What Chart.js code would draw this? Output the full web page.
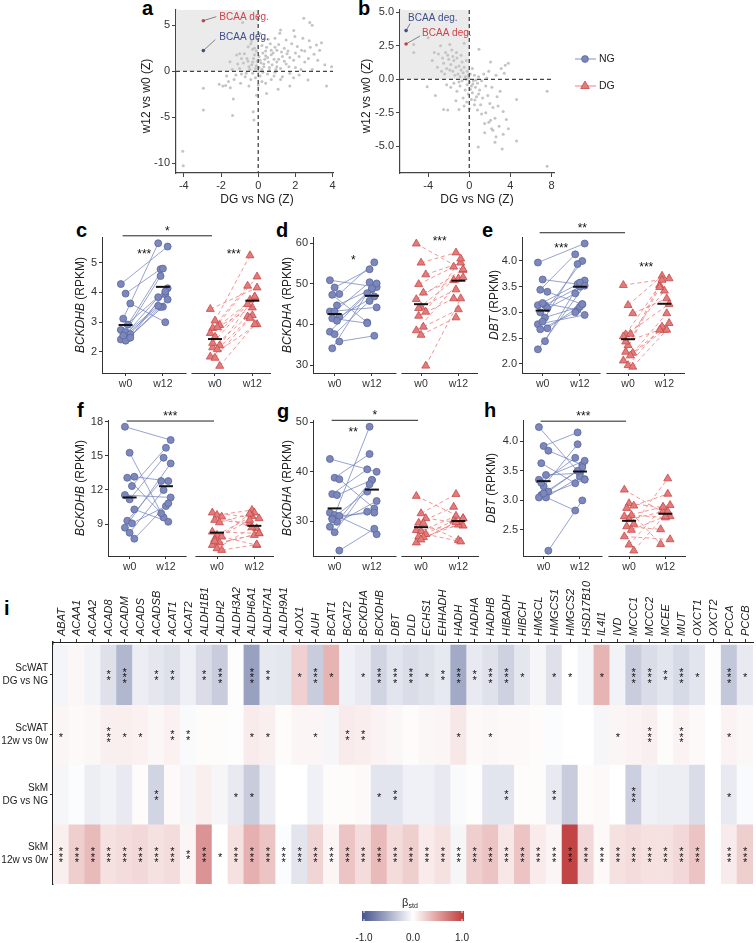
<!DOCTYPE html>
<html>
<head>
<meta charset="utf-8">
<script src="https://cdn.jsdelivr.net/npm/chart.js@4.4.1/dist/chart.umd.min.js"></script>
<style>
  body { margin: 0; background: #fff; }
  #fig { position: relative; width: 756px; height: 943px; overflow: hidden; background: #fff; }
  #fig canvas { position: absolute; }
  .tag { position: absolute; font: bold 20px "Liberation Sans", Arial, sans-serif; line-height: 20px; color: #000; }
</style>
</head>
<body>
<div id="fig">
  <div class="tag" style="left:142px;top:-2px">a</div>
  <div class="tag" style="left:358px;top:-2px">b</div>
  <div class="tag" style="left:76px;top:220px">c</div>
  <div class="tag" style="left:276px;top:220px">d</div>
  <div class="tag" style="left:482px;top:220px">e</div>
  <div class="tag" style="left:77px;top:400px">f</div>
  <div class="tag" style="left:277px;top:401px">g</div>
  <div class="tag" style="left:484px;top:400px">h</div>
  <div class="tag" style="left:4px;top:598px">i</div>
</div>
<script>
// ---------------- data ----------------
// panel a: [DG vs NG (Z), w12 vs w0 (Z)] per gene, ScWAT
var zA = [
  [-4.06,-8.7],[-4.03,-10.25],[-2.95,-1.85],[-2.95,-4.2],[-1.38,-4.8],[-1.34,-3.0],[-1.6,-1.1],[-1.9,-1.6],[-1.75,-1.55],
  [-0.27,-4.4],[-0.23,-5.3],[-0.09,-2.6],[0.45,-2.4],[1.07,-1.96],[1.7,-1.6],[2.68,-0.94],[3.67,-1.6],[2.45,5.76],
  [2.77,5.3],[2.9,5.0],[1.91,4.42],[1.16,4.13],[0.54,3.48],[1.97,3.77],[2.74,3.33],[3.13,2.86],[3.3,2.3],[2.33,2.3],
  [3.0,1.85],[3.58,0.7],[3.94,0.5],[-0.84,5.3],[-1.52,1.05],[-1.16,1.78],[-0.9,1.4],[-0.54,2.68],[-0.2,2.5],
  [0.1,1.2],[0.3,0.8],[-0.3,1.0],[0.5,1.5],[0.8,2.0],[-0.5,0.5],[0.2,0.2],[-0.1,0.6],[0.6,0.4],[1.0,1.0],[1.3,1.6],
  [1.6,2.2],[0.9,2.6],[0.4,2.2],[-0.2,1.8],[-0.6,1.4],[-0.8,0.9],[-1.0,0.3],[-1.2,-0.4],[-0.7,-0.6],[-0.3,-0.2],
  [0.1,-0.5],[0.5,-0.3],[0.9,-0.1],[1.2,0.3],[1.5,0.8],[1.9,1.2],[2.2,1.6],[2.5,1.0],[2.0,0.4],[1.7,-0.2],[1.3,-0.6],
  [0.7,-0.9],[0.2,-1.1],[-0.4,-0.9],[-0.9,-0.3],[0.0,0.0],[0.15,0.9],[0.35,1.3],[0.55,1.0],[0.75,0.7],[-0.15,0.3],
  [-0.35,0.7],[-0.55,1.1],[0.05,1.6],[0.25,2.0],[0.45,2.6],[0.65,3.0],[1.1,2.9],[1.4,2.5],[1.8,3.0],[2.1,2.7],
  [2.4,3.6],[1.5,3.4],[0.9,3.6],[-0.4,3.0],[-0.1,2.2],[0.7,1.8],[1.1,1.3],[1.4,1.1],[1.7,1.5],[2.0,2.0],[2.7,1.4],
  [2.9,0.2],[3.2,1.2],[2.3,0.2],[1.0,0.5],[0.3,0.5],[-0.05,1.1],[-0.25,1.4],[-0.45,0.2],[-0.65,-0.2],[-1.1,0.8],
  [-1.4,0.2],[-1.7,-0.5],[-1.3,-0.9],[-0.95,-1.3],[-0.5,-1.6],[0.0,-1.5],[0.4,-1.3],[0.85,-0.5],[1.2,-0.9],[1.9,-0.7],
  [2.2,-0.4],[0.6,0.1],[0.05,0.4],[0.4,1.7],[0.85,1.3],[1.25,2.1],[1.55,1.9],[-0.3,2.4],[0.2,2.8],[0.7,2.3],[1.0,2.3],
  [-0.75,1.9],[-0.15,-0.7],[0.25,-0.1],[0.95,0.2],[1.65,0.5],[2.5,2.2],[2.8,2.6],[3.4,3.1],[1.2,4.5],[0.3,3.5],
  [-1.0,1.9],[-0.35,3.3],[0.1,4.1],[-2.1,-1.4],[-1.5,-1.8]
];
// panel b: same, SkM
var zB = [
  [-5.4,2.6],[-5.4,2.0],[-4.0,3.1],[-4.1,-0.55],[-3.3,-1.2],[-2.5,-2.25],[-2.1,-2.3],[-1.0,-2.25],[0.87,-5.05],
  [2.5,-4.7],[2.6,-4.3],[3.3,-4.1],[4.6,-4.6],[2.17,-3.7],[2.07,-3.05],[3.6,-3.0],[3.8,-3.7],[7.57,-6.5],[7.57,-0.9],
  [4.6,-1.5],[0.94,2.25],[3.8,1.2],[3.5,1.05],[3.1,0.8],[2.07,1.3],[3.4,0.45],[3.3,-2.4],[2.8,-2.0],[3.2,-5.2],[1.5,-4.0],
  [-3.4,2.0],[-3.0,1.9],[-2.8,2.5],[-2.6,1.6],[-2.5,1.2],[-2.3,2.0],[-2.2,0.8],[-2.0,1.5],[-1.9,0.7],[-1.8,1.1],
  [-1.7,2.2],[-1.6,0.6],[-1.5,1.4],[-1.4,0.3],[-1.3,0.9],[-1.2,1.6],[-1.1,0.4],[-1.0,1.0],[-0.9,0.2],[-0.8,0.7],
  [-0.7,1.3],[-0.6,0.5],[-0.5,0.9],[-0.4,0.2],[-0.3,1.4],[-0.2,0.6],[-0.1,0.3],[-2.7,0.6],[-3.1,0.9],[-2.4,0.4],
  [-1.9,2.6],[-1.25,2.0],[-0.8,1.8],[-3.6,1.4],[-0.5,2.7],[-2.1,1.8],[-1.6,1.7],
  [0.0,-0.2],[0.2,-0.5],[0.4,-0.1],[0.1,0.4],[-0.2,-0.4],[-0.4,-0.8],[0.3,-1.0],[0.6,-0.6],[0.8,-0.3],[0.5,0.3],
  [0.9,0.2],[1.2,-0.1],[1.0,-0.8],[0.7,-1.3],[0.2,-1.5],[-0.1,-1.1],[-0.6,-1.4],[-0.9,-0.5],[-1.2,-0.9],[-1.5,-0.3],
  [-1.8,-0.6],[-2.2,-0.4],[1.4,0.4],[1.6,-0.5],[1.3,-1.4],[1.1,-1.9],[0.5,-1.9],[0.0,-2.2],[-0.5,-2.0],[1.8,-1.2],
  [2.0,-1.8],[1.6,-2.5],[1.2,-2.6],[0.8,-2.3],[2.3,-2.1],[2.5,-2.9],[1.9,-3.2],[2.7,-1.3],[2.2,-0.6],[3.0,-0.9],
  [2.6,0.3],[1.9,0.6],[1.7,0.1],[0.3,0.8],[-0.3,0.0],[0.65,-0.05],[0.1,-0.75],[-0.05,0.1],[0.35,-0.35],[0.55,-1.55],
  [-0.25,-1.7],[-1.3,-1.6],[-1.0,-0.2],[-0.7,-0.1],[1.5,-3.3],[2.9,-3.5],[2.3,-3.8],[0.9,-1.1]
];
// BCAA degradation pathway summary points
var bcaaA = { red: [-2.95, 5.5], blue: [-2.95, 2.25] };
var bcaaB = { red: [-6.15, 2.64], blue: [-6.15, 3.64] };

// panels c-h: RPKM per subject, w0 and w12 (paired by index)
var cNG0 = [4.28, 3.96, 3.63, 3.12, 2.92, 2.74, 2.67, 2.60, 2.49, 2.46, 2.42, 2.38, 2.48, 2.55];
var cNG12 = [5.54, 4.78, 3.00, 5.65, 4.80, 4.14, 4.55, 3.94, 3.84, 3.52, 3.76, 3.51, 4.03, 3.55];
var cDG0 = [3.44, 3.05, 2.90, 2.80, 2.83, 2.63, 2.51, 2.22, 2.15, 2.09, 1.84, 1.80, 1.53, 2.30];
var cDG12 = [4.16, 5.24, 3.84, 4.22, 3.49, 4.53, 3.75, 3.86, 3.19, 3.23, 2.93, 3.14, 2.93, 3.60];

var dNG0 = [50.9, 49.1, 47.5, 47.3, 44.7, 43.2, 43.2, 41.9, 41.5, 40.9, 38.2, 37.6, 35.8, 34.1];
var dNG12 = [49.2, 53.6, 55.3, 40.5, 48.7, 44.2, 50.4, 46.9, 40.3, 48.9, 50.1, 45.8, 37.2, 47.7];
var dDG0 = [59.9, 55.2, 52.3, 49.9, 47.8, 46.2, 44.3, 43.1, 42.1, 39.4, 38.5, 37.4, 29.8, 44.0];
var dDG12 = [53.4, 57.7, 55.2, 54.2, 51.3, 53.6, 48.6, 56.2, 46.4, 43.7, 51.6, 41.7, 46.4, 50.9];

var eNG0 = [3.97, 3.64, 3.40, 3.44, 3.14, 3.14, 3.18, 3.08, 3.00, 2.90, 2.77, 2.82, 2.69, 2.67, 2.44, 2.28];
var eNG12 = [4.34, 3.55, 3.16, 4.13, 3.50, 3.62, 3.05, 4.00, 3.37, 3.11, 2.95, 3.94, 3.16, 3.00, 3.58, 3.52];
var eDG0 = [3.53, 3.14, 2.98, 2.57, 2.58, 2.53, 2.36, 2.21, 2.23, 2.16, 2.06, 1.97, 1.94, 2.43];
var eDG12 = [3.66, 3.71, 3.27, 3.53, 3.42, 3.16, 3.63, 2.98, 3.49, 2.66, 2.79, 2.72, 2.66, 2.66];

var fNG0 = [17.56, 15.27, 13.16, 13.07, 12.34, 11.55, 11.17, 10.29, 9.29, 9.06, 8.68, 8.23, 7.71];
var fNG12 = [16.39, 9.58, 12.78, 9.94, 15.71, 11.34, 14.83, 9.20, 12.78, 10.58, 14.33, 11.99, 10.82];
var fDG0 = [10.0, 9.79, 9.64, 9.35, 9.14, 8.32, 8.03, 7.88, 7.65, 7.36, 7.15, 6.86, 6.71, 7.5];
var fDG12 = [9.5, 10.23, 8.62, 9.06, 10.0, 8.18, 9.7, 7.15, 9.35, 8.03, 8.18, 8.7, 7.2, 9.9];

var gNG0 = [42.6, 38.8, 38.5, 35.5, 35.3, 31.75, 31.3, 31.1, 30.6, 29.9, 28.9, 27.8, 24.1, 30.4];
var gNG12 = [40.0, 43.6, 32.6, 40.5, 38.35, 27.4, 49.1, 31.75, 36.0, 38.35, 34.1, 37.5, 28.5, 31.95];
var gDG0 = [35.1, 31.6, 30.6, 29.7, 29.6, 28.2, 28.0, 27.4, 26.9, 26.8, 25.7, 26.3];
var gDG12 = [30.6, 35.5, 29.7, 32.9, 26.2, 29.1, 31.1, 25.9, 30.1, 29.3, 30.6, 29.8];

var hNG0 = [4.24, 3.92, 3.84, 3.63, 3.43, 3.35, 3.24, 3.15, 3.09, 3.05, 3.05, 3.12, 2.15, 3.30];
var hNG12 = [3.36, 4.15, 3.60, 3.29, 3.46, 3.67, 3.95, 3.56, 2.83, 3.40, 3.35, 3.50, 3.00, 3.72];
var hDG0 = [3.18, 2.95, 2.91, 2.87, 2.75, 2.73, 2.68, 2.60, 2.56, 2.50, 2.39, 2.25, 2.15];
var hDG12 = [2.73, 2.88, 3.11, 2.26, 2.71, 2.92, 2.81, 3.37, 2.51, 2.73, 2.34, 2.89, 2.81];

// panel i: standardized beta per gene and contrast, with significance star counts
var genes = ['ABAT','ACAA1','ACAA2','ACAD8','ACADM','ACADS','ACADSB','ACAT1','ACAT2','ALDH1B1','ALDH2',
  'ALDH3A2','ALDH6A1','ALDH7A1','ALDH9A1','AOX1','AUH','BCAT1','BCAT2','BCKDHA','BCKDHB','DBT','DLD','ECHS1',
  'EHHADH','HADH','HADHA','HADHB','HIBADH','HIBCH','HMGCL','HMGCS1','HMGCS2','HSD17B10','IL4I1','IVD','MCCC1',
  'MCCC2','MCEE','MUT','OXCT1','OXCT2','PCCA','PCCB'];
var heatRows = [['ScWAT', 'DG vs NG'], ['ScWAT', '12w vs 0w'], ['SkM', 'DG vs NG'], ['SkM', '12w vs 0w']];
var betaScDG = [-0.06,0.04,-0.07,-0.18,-0.42,-0.10,-0.14,-0.18,-0.09,-0.20,-0.30,-0.01,-0.55,-0.13,-0.14,0.24,-0.30,
  0.38,-0.08,-0.12,-0.25,-0.15,-0.20,-0.17,-0.13,-0.50,-0.12,-0.17,-0.27,-0.14,-0.05,-0.18,0.00,-0.06,0.38,-0.07,
  -0.30,-0.20,-0.15,-0.22,-0.15,0.01,-0.33,-0.12];
var betaScT = [0.05,0.03,0.04,0.08,0.08,0.07,0.04,0.07,-0.03,0.02,0.02,0.01,0.10,0.08,0.02,0.05,0.05,-0.05,0.10,
  0.09,0.06,0.04,0.02,0.04,0.05,0.12,0.03,0.04,0.03,0.03,0.02,-0.02,0.00,0.00,-0.05,0.05,0.06,0.08,0.02,0.06,0.03,
  0.00,0.06,0.04];
var betaSkDG = [-0.05,-0.02,-0.10,-0.07,-0.12,0.02,-0.25,0.03,-0.05,0.08,-0.05,-0.12,-0.30,-0.10,0.00,0.00,-0.08,
  0.02,0.02,0.03,-0.15,-0.15,-0.08,-0.08,-0.12,-0.03,-0.01,-0.15,-0.15,0.02,0.02,-0.12,-0.30,0.02,0.03,0.00,-0.28,
  -0.08,-0.10,-0.10,-0.20,0.00,-0.12,-0.03];
var betaSkT = [0.08,0.25,0.35,0.15,0.18,0.20,0.15,0.18,0.05,0.55,0.00,0.15,0.40,0.30,-0.02,-0.15,0.22,0.05,0.30,
  0.18,0.35,0.18,0.25,0.10,0.15,-0.05,0.25,0.30,0.12,0.30,0.10,0.05,0.95,0.20,0.03,0.15,0.18,0.15,0.15,0.20,0.30,
  0.00,0.10,0.25];
var starsScDG = [0,0,0,2,3,0,2,2,0,2,3,0,3,2,0,1,3,1,0,1,3,3,3,1,2,3,2,3,3,1,0,1,1,0,1,0,3,3,2,3,1,0,3,1];
var starsScT = [1,0,0,3,1,1,0,2,2,0,0,0,1,1,0,0,1,0,2,2,0,0,0,0,0,1,0,1,0,0,0,0,0,0,0,1,0,3,0,3,0,0,1,0];
var starsSkDG = [0,0,0,0,0,0,2,0,0,0,0,1,1,0,0,0,0,0,0,0,1,2,0,0,0,0,0,0,2,0,0,2,0,0,0,0,3,0,0,0,0,0,1,0];
var starsSkT = [3,3,3,3,3,3,3,3,2,3,1,3,3,3,3,3,3,3,3,3,3,3,3,3,3,3,3,3,3,3,3,3,3,3,3,3,3,3,3,3,3,0,3,3];
var colorbarTicks = [-1, 0, 1];

// ---------------- helpers ----------------
var FONT = '"Liberation Sans", Arial, sans-serif';
Chart.defaults.font.family = FONT;
Chart.defaults.color = '#333';
Chart.defaults.animation = false;
Chart.defaults.events = [];
Chart.defaults.plugins.legend.display = false;
Chart.defaults.plugins.tooltip.enabled = false;

var NG_FILL = '#7c88bb', NG_EDGE = '#5a679f', NG_LINE = 'rgba(118,132,190,0.75)';
var DG_FILL = '#e27c7c', DG_EDGE = '#c94848', DG_LINE = 'rgba(236,132,132,0.85)';
var RED_TXT = '#d1434a', BLUE_TXT = '#3f4d8c';

function makeCanvas(box) {
  var c = document.createElement('canvas');
  c.width = box.w; c.height = box.h;
  c.style.left = box.x + 'px'; c.style.top = box.y + 'px';
  c.style.width = box.w + 'px'; c.style.height = box.h + 'px';
  document.getElementById('fig').appendChild(c);
  return c;
}
function mean(a) { return a.reduce(function (s, v) { return s + v; }, 0) / a.length; }
function font(size, style) { return (style || '') + ' ' + size + 'px ' + FONT; }

function hline(ctx, x0, x1, y) { ctx.beginPath(); ctx.moveTo(x0, y); ctx.lineTo(x1, y); ctx.stroke(); }

// rotated text made of pieces with their own font style
function drawRotated(ctx, x, y, parts, size) {
  ctx.save();
  ctx.translate(x, y); ctx.rotate(-Math.PI / 2);
  ctx.textBaseline = 'middle'; ctx.textAlign = 'left'; ctx.fillStyle = '#222';
  var total = 0;
  parts.forEach(function (p) { ctx.font = font(size, p.style); total += ctx.measureText(p.t).width; });
  var cx = -total / 2;
  parts.forEach(function (p) { ctx.font = font(size, p.style); ctx.fillText(p.t, cx, 0); cx += ctx.measureText(p.t).width; });
  ctx.restore();
}

function stars(ctx, x, y, n, size, gap) {
  ctx.font = font(size);
  ctx.textAlign = 'center'; ctx.textBaseline = 'alphabetic'; ctx.fillStyle = '#111';
  for (var k = 0; k < n; k++) {
    var yy = y + (k - (n - 1) / 2) * gap;
    ctx.fillText('*', x, yy + size * 0.58);
  }
}

function betaColor(v) {
  var lo = [70, 84, 140], hi = [192, 58, 58];
  var t = Math.min(1, Math.abs(v)), c = v < 0 ? lo : hi;
  return 'rgb(' + c.map(function (ch) { return Math.round(255 + (ch - 255) * t); }).join(',') + ')';
}

// ---------------- panels a and b ----------------
function zPanel(o) {
  var box = o.box, area = o.area;
  var cv = makeCanvas(box);
  var deco = {
    id: 'zdeco',
    beforeDatasetsDraw: function (chart) {
      var ctx = chart.ctx, x = chart.scales.x, y = chart.scales.y, ca = chart.chartArea;
      ctx.save();
      ctx.fillStyle = '#ebebeb';
      ctx.fillRect(ca.left, ca.top, x.getPixelForValue(0) - ca.left, y.getPixelForValue(0) - ca.top);
      ctx.restore();
    },
    afterDatasetsDraw: function (chart) {
      var ctx = chart.ctx, x = chart.scales.x, y = chart.scales.y, ca = chart.chartArea;
      ctx.save();
      ctx.strokeStyle = '#444'; ctx.lineWidth = 1.3; ctx.setLineDash([4, 3]);
      var x0 = x.getPixelForValue(0), y0 = y.getPixelForValue(0);
      ctx.beginPath(); ctx.moveTo(x0, ca.top); ctx.lineTo(x0, ca.bottom); ctx.stroke();
      hline(ctx, ca.left, ca.right, y0);
      ctx.setLineDash([]);
      // BCAA labels
      o.labels.forEach(function (L) {
        var px = x.getPixelForValue(L.pt[0]), py = y.getPixelForValue(L.pt[1]);
        ctx.strokeStyle = '#555'; ctx.lineWidth = 0.7;
        ctx.beginPath(); ctx.moveTo(px, py); ctx.lineTo(px + L.line[0], py + L.line[1]); ctx.stroke();
        ctx.font = font(10); ctx.fillStyle = L.color; ctx.textAlign = 'left'; ctx.textBaseline = 'middle';
        ctx.fillText('BCAA deg.', px + L.text[0], py + L.text[1]);
      });
      ctx.restore();
    },
    afterDraw: function (chart) {
      var ctx = chart.ctx;
      ctx.save();
      ctx.font = font(12); ctx.fillStyle = '#222'; ctx.textAlign = 'center'; ctx.textBaseline = 'middle';
      ctx.fillText('DG vs NG (Z)', o.xTitle[0] - box.x, o.xTitle[1] - box.y);
      drawRotated(ctx, o.yTitle[0] - box.x, o.yTitle[1] - box.y, [{ t: 'w12 vs w0 (Z)' }], 12);
      if (o.legend) {
        var lx = 585 - box.x;
        var y1 = 59 - box.y, y2 = 86 - box.y;
        // NG
        ctx.strokeStyle = NG_LINE; ctx.lineWidth = 1.2; hline(ctx, lx - 10, lx + 11, y1);
        ctx.beginPath(); ctx.arc(lx, y1, 3.4, 0, Math.PI * 2);
        ctx.fillStyle = NG_FILL; ctx.fill(); ctx.strokeStyle = NG_EDGE; ctx.lineWidth = 0.8; ctx.stroke();
        // DG
        ctx.strokeStyle = DG_LINE; ctx.lineWidth = 1.2; hline(ctx, lx - 10, lx + 11, y2);
        var r = 5;
        ctx.beginPath();
        ctx.moveTo(lx, y2 - r);
        ctx.lineTo(lx + r * 0.866, y2 + r * 0.5);
        ctx.lineTo(lx - r * 0.866, y2 + r * 0.5);
        ctx.closePath();
        ctx.fillStyle = DG_FILL; ctx.fill(); ctx.strokeStyle = DG_EDGE; ctx.lineWidth = 0.8; ctx.stroke();
        ctx.font = font(10.5); ctx.fillStyle = '#222'; ctx.textAlign = 'left'; ctx.textBaseline = 'middle';
        ctx.fillText('NG', 599 - box.x, y1);
        ctx.fillText('DG', 599 - box.x, y2);
      }
      ctx.restore();
    }
  };
  var pts = o.points.map(function (p) { return { x: p[0], y: p[1] }; });
  new Chart(cv, {
    type: 'scatter',
    data: {
      datasets: [
        { data: [{ x: o.hl.red[0], y: o.hl.red[1] }], pointRadius: 1.8, backgroundColor: RED_TXT, borderWidth: 0 },
        { data: [{ x: o.hl.blue[0], y: o.hl.blue[1] }], pointRadius: 1.8, backgroundColor: BLUE_TXT, borderWidth: 0 },
        { data: pts, pointRadius: 1.5, backgroundColor: '#c4c4c4', borderWidth: 0 }
      ]
    },
    options: {
      responsive: false, devicePixelRatio: 1,
      layout: { padding: { left: 0, bottom: 0, top: area.t - box.y, right: box.x + box.w - area.r } },
      scales: {
        x: {
          type: 'linear', min: o.xr[0], max: o.xr[1],
          afterFit: function (s) { s.height = box.y + box.h - area.b; },
          afterBuildTicks: function (s) { s.ticks = o.xTicks.map(function (v) { return { value: v }; }); },
          ticks: { font: { size: 11 }, color: '#333', padding: 2, maxRotation: 0, autoSkip: false,
            callback: function (v) { return String(v); } },
          grid: { display: true, drawOnChartArea: false, tickLength: 4, color: '#444' },
          border: { display: true, color: '#444', width: 1.2 }
        },
        y: {
          type: 'linear', min: o.yr[0], max: o.yr[1],
          afterFit: function (s) { s.width = area.l - box.x; },
          afterBuildTicks: function (s) { s.ticks = o.yTicks.map(function (v) { return { value: v }; }); },
          ticks: { font: { size: 11 }, color: '#333', padding: 2, autoSkip: false,
            callback: function (v) { return o.yDec ? v.toFixed(o.yDec) : String(v); } },
          grid: { display: true, drawOnChartArea: false, tickLength: 4, color: '#444' },
          border: { display: true, color: '#444', width: 1.2 }
        }
      }
    },
    plugins: [deco]
  });
}

zPanel({
  box: { x: 110, y: 0, w: 235, h: 212 }, area: { l: 176, t: 10, r: 333, b: 173 },
  points: zA, hl: bcaaA, xr: [-4.42, 4.02], yr: [-11.05, 6.66], xTicks: [-4, -2, 0, 2, 4], yTicks: [-10, -5, 0, 5], yDec: 0,
  xTitle: [257, 200], yTitle: [147, 96],
  labels: [
    { pt: bcaaA.red, color: RED_TXT, line: [13, -4], text: [16, -3.7] },
    { pt: bcaaA.blue, color: BLUE_TXT, line: [12, -11], text: [16, -13.6] }
  ]
});
zPanel({
  box: { x: 355, y: 0, w: 290, h: 212 }, area: { l: 400, t: 10, r: 554, b: 173 },
  points: zB, hl: bcaaB, xr: [-6.74, 8.24], yr: [-7.0, 5.18], xTicks: [-4, 0, 4, 8], yTicks: [-5, -2.5, 0, 2.5, 5], yDec: 1,
  xTitle: [477, 200], yTitle: [367, 96], legend: true,
  labels: [
    { pt: bcaaB.blue, color: BLUE_TXT, line: [4, -7], text: [2, -12.6] },
    { pt: bcaaB.red, color: RED_TXT, line: [14, -8], text: [16, -11] }
  ]
});

// ---------------- panels c-h ----------------
function jit(i) { return ((i * 7) % 5 - 2) * 2.4; }

function pairLines(a, b, x0, x1) {
  var out = [];
  a.forEach(function (v, i) {
    out.push({ x: x0 + jit(i), y: v }, { x: x1 + jit(i + 2), y: b[i] }, { x: null, y: null });
  });
  return out;
}
function pointsAt(a, x0, shift) {
  return a.map(function (v, i) { return { x: x0 + jit(i + shift), y: v }; });
}

function rpkmPanel(p) {
  var area = { l: p.axis, t: p.top, r: p.segs[1][1], b: p.bottom };
  var box = { x: p.axis - 56, y: p.top - 28, w: area.r - p.axis + 62, h: p.bottom + 24 - (p.top - 28) };
  var cv = makeCanvas(box);
  var X = p.pos.map(function (v) { return v - p.axis; });
  var mid = { ng: (X[0] + X[1]) / 2, dg: (X[2] + X[3]) / 2 };
  var deco = {
    id: 'rdeco',
    afterDraw: function (chart) {
      var ctx = chart.ctx, x = chart.scales.x, y = chart.scales.y, ca = chart.chartArea;
      ctx.save();
      ctx.strokeStyle = '#333'; ctx.lineWidth = 1;
      var by = Math.round(ca.bottom) + 0.5;
      p.segs.forEach(function (s) { hline(ctx, x.getPixelForValue(s[0] - p.axis), x.getPixelForValue(s[1] - p.axis), by); });
      drawRotated(ctx, p.titleX - box.x, (p.top + p.bottom) / 2 - box.y,
        [{ t: p.gene, style: 'italic' }, { t: ' (RPKM)' }], 12);
      if (p.bar) {
        var yb = y.getPixelForValue(p.bar.y);
        ctx.strokeStyle = '#222'; ctx.lineWidth = 1;
        hline(ctx, x.getPixelForValue(X[0]) - 3, x.getPixelForValue(X[2]) - 3, yb);
        var mx = (x.getPixelForValue(X[0]) + x.getPixelForValue(X[2])) / 2 - 3;
        ctx.font = font(12); ctx.fillStyle = '#111'; ctx.textAlign = 'center'; ctx.textBaseline = 'alphabetic';
        ctx.fillText(p.bar.text, mx, yb - 8 + 12 * 0.58);
      }
      (p.inner || []).forEach(function (s) {
        ctx.font = font(12); ctx.fillStyle = '#111'; ctx.textAlign = 'center'; ctx.textBaseline = 'alphabetic';
        ctx.fillText(s.text, x.getPixelForValue(mid[s.at]), y.getPixelForValue(s.y) + 12 * 0.58);
      });
      ctx.restore();
    }
  };
  var means = [
    { x: X[0], y: mean(p.ng0) }, { x: X[1], y: mean(p.ng12) },
    { x: X[2], y: mean(p.dg0) }, { x: X[3], y: mean(p.dg12) }
  ];
  new Chart(cv, {
    type: 'scatter',
    data: {
      datasets: [
        { data: means, pointStyle: 'line', pointRadius: 7, borderColor: '#111', borderWidth: 2, order: 0, clip: false },
        { data: pointsAt(p.ng0, X[0], 0).concat(pointsAt(p.ng12, X[1], 2)), pointStyle: 'circle', pointRadius: 3.5,
          backgroundColor: NG_FILL, borderColor: NG_EDGE, borderWidth: 0.8, order: 1, clip: false },
        { data: pointsAt(p.dg0, X[2], 0).concat(pointsAt(p.dg12, X[3], 2)), pointStyle: 'triangle', pointRadius: 4.6,
          backgroundColor: DG_FILL, borderColor: DG_EDGE, borderWidth: 0.8, order: 1, clip: false },
        { type: 'line', data: pairLines(p.ng0, p.ng12, X[0], X[1]), borderColor: NG_LINE, borderWidth: 1,
          pointRadius: 0, spanGaps: false, order: 2, clip: false },
        { type: 'line', data: pairLines(p.dg0, p.dg12, X[2], X[3]), borderColor: DG_LINE, borderWidth: 1,
          borderDash: [4, 3], pointRadius: 0, spanGaps: false, order: 2, clip: false }
      ]
    },
    options: {
      responsive: false, devicePixelRatio: 1,
      layout: { padding: { left: 0, bottom: 0, top: area.t - box.y, right: box.x + box.w - area.r } },
      scales: {
        x: {
          type: 'linear', min: 0, max: area.r - p.axis,
          afterFit: function (s) { s.height = box.y + box.h - area.b; },
          afterBuildTicks: function (s) { s.ticks = X.map(function (v) { return { value: v }; }); },
          ticks: { font: { size: 10.5 }, color: '#333', padding: 2, maxRotation: 0, minRotation: 0, autoSkip: false,
            callback: function (v, i) { return ['w0', 'w12', 'w0', 'w12'][i]; } },
          grid: { display: true, drawOnChartArea: false, tickLength: 3, color: '#333' },
          border: { display: false }
        },
        y: {
          type: 'linear', min: p.yr[0], max: p.yr[1],
          afterFit: function (s) { s.width = area.l - box.x; },
          afterBuildTicks: function (s) { s.ticks = p.yTicks.map(function (v) { return { value: v }; }); },
          ticks: { font: { size: 11 }, color: '#333', padding: 2, autoSkip: false,
            callback: function (v) { return p.yDec ? v.toFixed(p.yDec) : String(v); } },
          grid: { display: true, drawOnChartArea: false, tickLength: 3, color: '#333' },
          border: { display: true, color: '#333', width: 1 }
        }
      }
    },
    plugins: [deco]
  });
}

var ROW1 = { top: 237, bottom: 373 }, ROW2 = { top: 420, bottom: 556 };

rpkmPanel({ gene: 'BCKDHB', axis: 102, top: ROW1.top, bottom: ROW1.bottom, pos: [126, 164, 217, 255],
  segs: [[102, 188], [193, 274]], yr: [1.295, 5.86], yTicks: [2, 3, 4, 5], yDec: 0, titleX: 81,
  ng0: cNG0, ng12: cNG12, dg0: cDG0, dg12: cDG12,
  bar: { y: 5.9, text: '*' }, inner: [{ at: 'ng', y: 5.39, text: '***' }, { at: 'dg', y: 5.39, text: '***' }] });
rpkmPanel({ gene: 'BCKDHA', axis: 313, top: ROW1.top, bottom: ROW1.bottom, pos: [335, 373, 423, 461],
  segs: [[313, 398], [403, 481]], yr: [28.03, 61.55], yTicks: [30, 40, 50, 60], yDec: 0, titleX: 288,
  ng0: dNG0, ng12: dNG12, dg0: dDG0, dg12: dDG12,
  inner: [{ at: 'ng', y: 56.6, text: '*' }, { at: 'dg', y: 61.3, text: '***' }] });
rpkmPanel({ gene: 'DBT', axis: 522, top: ROW1.top, bottom: ROW1.bottom, pos: [543, 581, 630, 667],
  segs: [[522, 602], [608, 688]], yr: [1.82, 4.467], yTicks: [2, 2.5, 3, 3.5, 4], yDec: 1, titleX: 495,
  ng0: eNG0, ng12: eNG12, dg0: eDG0, dg12: eDG12,
  bar: { y: 4.55, text: '**' }, inner: [{ at: 'ng', y: 4.31, text: '***' }, { at: 'dg', y: 3.94, text: '***' }] });
rpkmPanel({ gene: 'BCKDHB', axis: 108, top: ROW2.top, bottom: ROW2.bottom, pos: [130, 167, 219, 257],
  segs: [[108, 188], [197, 277]], yr: [6.19, 18.15], yTicks: [9, 12, 15, 18], yDec: 0, titleX: 81,
  ng0: fNG0, ng12: fNG12, dg0: fDG0, dg12: fDG12,
  bar: { y: 18.06, text: '***' } });
rpkmPanel({ gene: 'BCKDHA', axis: 313, top: ROW2.top, bottom: ROW2.bottom, pos: [335, 373, 423, 461],
  segs: [[313, 398], [403, 482]], yr: [23.0, 50.46], yTicks: [30, 40, 50], yDec: 0, titleX: 288,
  ng0: gNG0, ng12: gNG12, dg0: gDG0, dg12: gDG12,
  bar: { y: 50.4, text: '*' }, inner: [{ at: 'ng', y: 48.65, text: '**' }] });
rpkmPanel({ gene: 'DBT', axis: 523, top: ROW2.top, bottom: ROW2.bottom, pos: [544, 581, 631, 668],
  segs: [[523, 604], [610, 689]], yr: [2.06, 4.36], yTicks: [2.5, 3, 3.5, 4], yDec: 1, titleX: 492,
  ng0: hNG0, ng12: hNG12, dg0: hDG0, dg12: hDG12,
  bar: { y: 4.34, text: '***' } });

// ---------------- panel i: heatmap ----------------
(function () {
  var box = { x: 0, y: 572, w: 756, h: 371 };
  var area = { l: 53, t: 642, r: 753, b: 884 };
  var betas = [betaScDG, betaScT, betaSkDG, betaSkT];
  var starN = [starsScDG, starsScT, starsSkDG, starsSkT];
  var cv = makeCanvas(box);
  var deco = {
    id: 'hdeco',
    afterDatasetsDraw: function (chart) {
      var ctx = chart.ctx, x = chart.scales.x, y = chart.scales.y;
      ctx.save();
      starN.forEach(function (row, r) {
        row.forEach(function (n, i) {
          if (n) stars(ctx, x.getPixelForValue(i), y.getPixelForValue(r + 0.5), n, 11, 5.5);
        });
      });
      ctx.restore();
    },
    afterDraw: function (chart) {
      var ctx = chart.ctx, x = chart.scales.x, ca = chart.chartArea;
      ctx.save();
      // gene names, rotated, centred on their column
      ctx.font = font(11, 'italic'); ctx.fillStyle = '#222'; ctx.textAlign = 'left'; ctx.textBaseline = 'middle';
      genes.forEach(function (g, i) {
        ctx.save();
        ctx.translate(x.getPixelForValue(i) + 0.5, ca.top - 6);
        ctx.rotate(-Math.PI / 2);
        ctx.fillText(g, 0, 0);
        ctx.restore();
      });
      // colour bar
      var x0 = 362, x1 = 464, y0 = 911 - box.y, y1 = 921 - box.y;
      var g = ctx.createLinearGradient(x0, 0, x1, 0);
      for (var k = 0; k <= 20; k++) { var v = -1 + k / 10; g.addColorStop(k / 20, betaColor(v)); }
      ctx.fillStyle = g; ctx.fillRect(x0, y0, x1 - x0, y1 - y0);
      ctx.strokeStyle = 'rgba(255,255,255,0.9)'; ctx.lineWidth = 1;
      ctx.font = font(10); ctx.fillStyle = '#222'; ctx.textAlign = 'center'; ctx.textBaseline = 'middle';
      colorbarTicks.forEach(function (v) {
        var px = x0 + 2 + (v + 1) / 2 * (x1 - x0 - 4);
        ctx.beginPath(); ctx.moveTo(px, y0); ctx.lineTo(px, y0 + 2); ctx.moveTo(px, y1 - 2); ctx.lineTo(px, y1); ctx.stroke();
        ctx.fillText(v.toFixed(1), px, 938 - box.y);
      });
      ctx.textAlign = 'left'; ctx.textBaseline = 'alphabetic';
      ctx.font = font(11); ctx.fillText('\u03b2', 402, 906 - box.y);
      ctx.font = font(7); ctx.fillText('std', 408.5, 908 - box.y);
      ctx.restore();
    }
  };
  new Chart(cv, {
    type: 'bar',
    data: {
      labels: genes,
      datasets: betas.map(function (row, r) {
        return {
          label: heatRows[r].join(' '),
          data: genes.map(function () { return 1; }),
          backgroundColor: row.map(betaColor),
          borderWidth: 0, barPercentage: 1, categoryPercentage: 1, stack: 'cells'
        };
      })
    },
    options: {
      responsive: false, devicePixelRatio: 1,
      layout: { padding: { left: 0, top: 0, right: box.x + box.w - area.r, bottom: box.y + box.h - area.b } },
      scales: {
        x: {
          type: 'category', position: 'top', stacked: true, offset: true,
          afterFit: function (s) { s.height = area.t - box.y; },
          ticks: { display: false, autoSkip: false },
          grid: { display: true, offset: false, drawOnChartArea: false, tickLength: 3, color: '#333' },
          border: { display: true, color: '#222', width: 1 }
        },
        y: {
          type: 'linear', reverse: true, stacked: true, min: -0.05, max: 4,
          afterFit: function (s) { s.width = area.l - box.x; },
          afterBuildTicks: function (s) { s.ticks = [0.5, 1.5, 2.5, 3.5].map(function (v) { return { value: v }; }); },
          ticks: { font: { size: 10, lineHeight: 1.3 }, color: '#222', padding: 2, autoSkip: false,
            callback: function (v, i) { return heatRows[i]; } },
          grid: { display: true, drawOnChartArea: false, tickLength: 3, color: '#333' },
          border: { display: true, color: '#222', width: 1.5 }
        }
      }
    },
    plugins: [deco]
  });
})();
</script>
</body>
</html>
